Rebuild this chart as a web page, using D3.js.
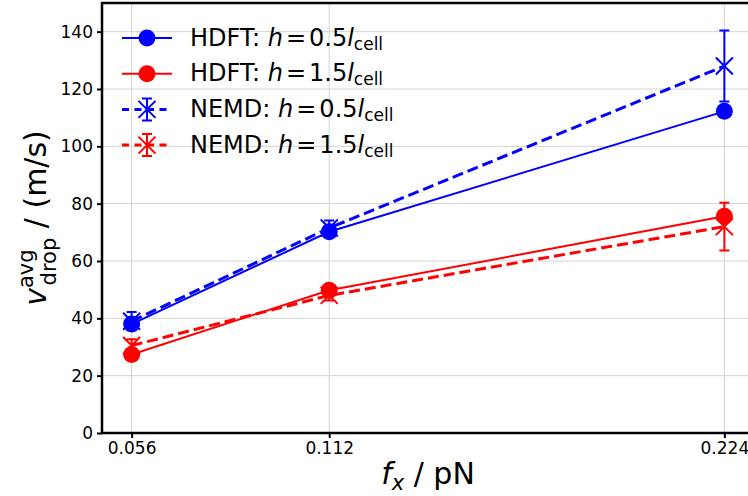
<!DOCTYPE html>
<html><head><meta charset="utf-8">
<script src="https://cdn.jsdelivr.net/npm/d3@7/dist/d3.min.js"></script>
<style>body{margin:0;background:#fff}svg{display:block}text{font-family:"DejaVu Sans",sans-serif}</style>
</head><body><svg id="c" width="748" height="496"></svg>
<script>
const forces = [0.056, 0.112, 0.224];
const xTicks = [0.056, 0.112, 0.224];
const yTicks = [0, 20, 40, 60, 80, 100, 120, 140];
const hdft05 = [38, 70.2, 112.2];
const hdft15 = [27.4, 49.8, 75.6];
const nemd05 = [39, 71.5, 128];
const nemd05Err = [3.2, 2.6, 12.4];
const nemd15 = [30.5, 48, 72];
const nemd15Err = [2.2, 1.8, 8.3];

const svg = d3.select("#c");
const L = 102, R = 754, T = 3, B = 433;
const x = d3.scaleLinear().domain([0.0476, 0.2324]).range([L, R]);
const y = d3.scaleLinear().domain([0, 150]).range([B, T]);

// grid
const g = svg.append("g");
g.selectAll(".gx").data(xTicks).enter().append("line")
  .attr("x1", d => x(d)).attr("x2", d => x(d)).attr("y1", T).attr("y2", B)
  .attr("stroke", "#d3d3d3").attr("stroke-width", 1);
g.selectAll(".gy").data(yTicks).enter().append("line")
  .attr("x1", L).attr("x2", R).attr("y1", d => y(d)).attr("y2", d => y(d))
  .attr("stroke", "#d3d3d3").attr("stroke-width", 1);

const series = [
  {vals: nemd05, err: nemd05Err, color: "#0000ff", dash: "11,5", type: "x"},
  {vals: nemd15, err: nemd15Err, color: "#ff0000", dash: "11,5", type: "x"},
  {vals: hdft05, err: null, color: "#0000ff", dash: null, type: "o"},
  {vals: hdft15, err: null, color: "#ff0000", dash: null, type: "o"}
];
const line = d3.line().x(d => x(d[0])).y(d => y(d[1]));
function xMarker(sel, cx, cy, color) {
  const s = 8.5;
  sel.append("path").attr("d", `M${cx-s},${cy-s}L${cx+s},${cy+s}M${cx-s},${cy+s}L${cx+s},${cy-s}`)
    .attr("stroke", color).attr("stroke-width", 2).attr("fill", "none");
}
series.forEach(s => {
  const pts = forces.map((f, i) => [f, s.vals[i]]);
  svg.append("path").attr("d", line(pts)).attr("fill", "none").attr("stroke", s.color)
    .attr("stroke-width", s.dash ? 3 : 2).attr("stroke-dasharray", s.dash);
  pts.forEach((p, i) => {
    const cx = x(p[0]), cy = y(p[1]);
    if (s.err) {
      const y1 = y(p[1] + s.err[i]), y2 = y(p[1] - s.err[i]);
      svg.append("path").attr("d", `M${cx},${y1}L${cx},${y2}M${cx-5},${y1}L${cx+5},${y1}M${cx-5},${y2}L${cx+5},${y2}`)
        .attr("stroke", s.color).attr("stroke-width", 2).attr("fill", "none");
    }
    if (s.type === "o") svg.append("circle").attr("cx", cx).attr("cy", cy).attr("r", 8.5).attr("fill", s.color);
    else xMarker(svg, cx, cy, s.color);
  });
});

// spines
svg.append("rect").attr("x", L).attr("y", T).attr("width", R - L).attr("height", B - T)
  .attr("fill", "none").attr("stroke", "#000").attr("stroke-width", 2.5);

// axes
const xa = svg.append("g").attr("transform", `translate(0,${B})`)
  .call(d3.axisBottom(x).tickValues(xTicks).tickFormat(d3.format(".3f")).tickSize(5).tickPadding(4));
const ya = svg.append("g").attr("transform", `translate(${L},0)`)
  .call(d3.axisLeft(y).tickValues(yTicks).tickFormat(d3.format("d")).tickSize(5).tickPadding(4));
[xa, ya].forEach(a => {
  a.select(".domain").remove();
  a.selectAll("line").attr("stroke", "#000").attr("stroke-width", 2);
  a.selectAll("text").attr("font-size", 17).attr("fill", "#000").attr("font-family", "DejaVu Sans");
});

// axis labels
const xl = svg.append("text").attr("x", 428).attr("y", 484).attr("text-anchor", "middle")
  .attr("font-size", 30).attr("fill", "#000");
xl.append("tspan").attr("font-style", "italic").text("f");
xl.append("tspan").attr("font-style", "italic").attr("font-size", 21).attr("dy", 6).text("x");
xl.append("tspan").attr("dy", -6).text(" / pN");

const yl = svg.append("text").attr("transform", "translate(46,218) rotate(-90)").attr("text-anchor", "middle")
  .attr("font-size", 30).attr("fill", "#000");
yl.append("tspan").attr("font-style", "italic").text("v");
yl.append("tspan").attr("font-size", 21).attr("dy", -13).text("avg");
yl.append("tspan").attr("font-size", 21).attr("dx", -36).attr("dy", 23).text("drop");
yl.append("tspan").attr("dy", -10).text(" / (m/s)");

// legend
const legItems = [
  {name: "HDFT", h: "0.5", color: "#0000ff", type: "o"},
  {name: "HDFT", h: "1.5", color: "#ff0000", type: "o"},
  {name: "NEMD", h: "0.5", color: "#0000ff", type: "x"},
  {name: "NEMD", h: "1.5", color: "#ff0000", type: "x"}
];
legItems.forEach((d, i) => {
  const cy = 38 + i * 35.7;
  const lg = svg.append("g");
  if (d.type === "o") {
    lg.append("line").attr("x1", 122).attr("x2", 172).attr("y1", cy).attr("y2", cy).attr("stroke", d.color).attr("stroke-width", 2);
    lg.append("circle").attr("cx", 147).attr("cy", cy).attr("r", 8.5).attr("fill", d.color);
  } else {
    lg.append("line").attr("x1", 122).attr("x2", 172).attr("y1", cy).attr("y2", cy).attr("stroke", d.color).attr("stroke-width", 3).attr("stroke-dasharray", "7,5.5");
    lg.append("path").attr("d", `M147,${cy-11}L147,${cy+11}M142,${cy-11}L152,${cy-11}M142,${cy+11}L152,${cy+11}`).attr("stroke", d.color).attr("stroke-width", 2).attr("fill", "none");
    xMarker(lg, 147, cy, d.color);
  }
  const t = lg.append("text").attr("x", 190).attr("y", cy + 7.5).attr("font-size", 24).attr("fill", "#000");
  t.append("tspan").text(d.name + ": ");
  t.append("tspan").attr("font-style", "italic").text("h");
  t.append("tspan").attr("dx", 3).text("=");
  t.append("tspan").attr("dx", 3).text(d.h);
  t.append("tspan").attr("font-style", "italic").text("l");
  t.append("tspan").attr("font-size", 17).attr("dy", 4).text("cell");
});
</script></body></html>
